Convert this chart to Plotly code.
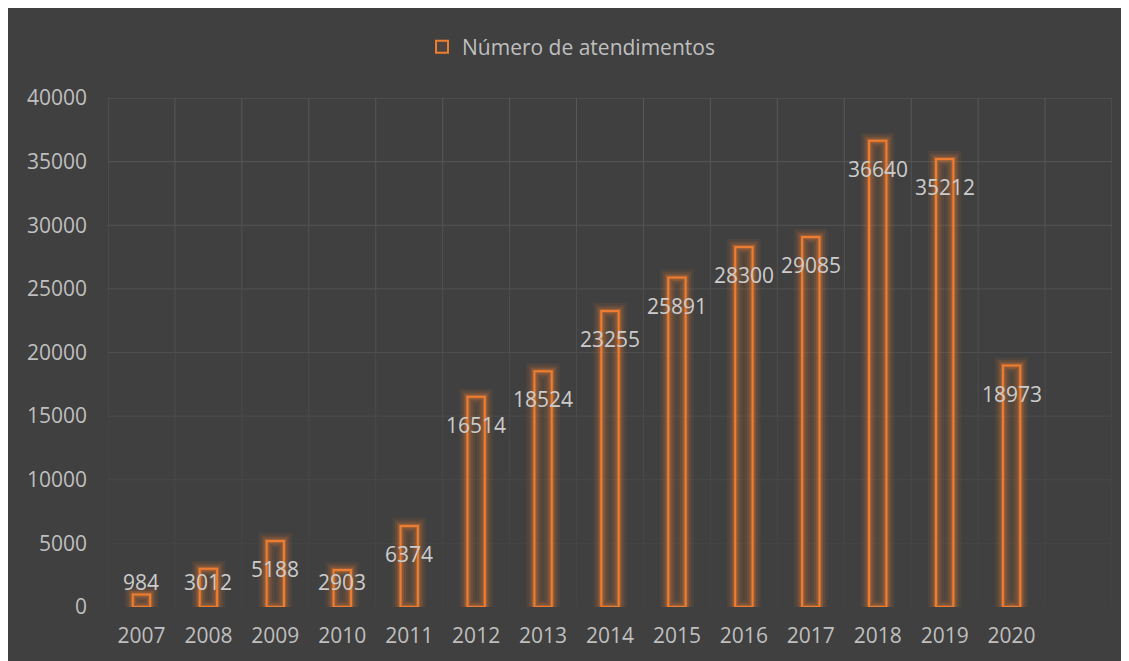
import plotly.graph_objects as go

years = ["2007", "2008", "2009", "2010", "2011", "2012", "2013",
         "2014", "2015", "2016", "2017", "2018", "2019", "2020"]
atendimentos = [984, 3012, 5188, 2903, 6374, 16514, 18524,
                23255, 25891, 28300, 29085, 36640, 35212, 18973]
y_ticks = [0, 5000, 10000, 15000, 20000, 25000, 30000, 35000, 40000]
series_name = "Número de atendimentos"

FONT = "Open Sans"
BG = "#404040"
ORANGE = "#ED7D31"
TXT = "#bfbfbf"

xs = list(range(len(years)))
n_slots = len(years) + 1  # one empty slot at the end, as in the original
ymax = 40000
plot_h = 509  # px height of plot area

fig = go.Figure()

# glow layers
for lw, alpha in [(16, 0.08), (11, 0.12), (7, 0.18), (4, 0.28)]:
    fig.add_trace(go.Bar(x=xs, y=atendimentos, width=0.26, showlegend=False, hoverinfo="skip",
                         marker=dict(color="rgba(0,0,0,0)",
                                     line=dict(color=f"rgba(237,125,49,{alpha})", width=lw))))
# main bars
fig.add_trace(go.Bar(x=xs, y=atendimentos, width=0.26, name=series_name,
                     marker=dict(color="rgba(237,125,49,0.07)",
                                 line=dict(color=ORANGE, width=2))))

# gridlines with fading intensity
def grid_col(v):
    t = (v / ymax) ** 1.1
    c = int(round(67 + (90 - 67) * t))
    return f"rgb({c},{c},{c})"

shapes = []
for v in y_ticks:
    if v == 0:
        continue
    shapes.append(dict(type="line", xref="x", yref="y", layer="below",
                       x0=-0.5, x1=n_slots - 0.5, y0=v, y1=v,
                       line=dict(color=grid_col(v), width=1)))
for k in range(n_slots + 1):
    xb = k - 0.5
    for i in range(len(y_ticks) - 1):
        lo, hi = y_ticks[i], y_ticks[i + 1]
        shapes.append(dict(type="line", xref="x", yref="y", layer="below",
                           x0=xb, x1=xb, y0=lo, y1=hi,
                           line=dict(color=grid_col((lo + hi) / 2), width=1)))

# data labels (inside end; pushed up for short bars)
annotations = []
for x, v in zip(xs, atendimentos):
    h = v / ymax * plot_h
    if h - 28 >= 25:
        y, ys = v, -28
    else:
        y, ys = 0, 25
    annotations.append(dict(x=x, y=y, yshift=ys, text=str(v), showarrow=False,
                            xref="x", yref="y",
                            font=dict(family=FONT, size=21, color="#cccccc")))

fig.update_layout(
    width=1129, height=661,
    margin=dict(l=100, r=25, t=90, b=62),
    paper_bgcolor=BG,
    plot_bgcolor="rgba(0,0,0,0)",
    barmode="overlay",
    font=dict(family=FONT, size=21, color=TXT),
    shapes=shapes,
    annotations=annotations,
    showlegend=True,
    legend=dict(orientation="h", x=(571 - 108) / 1004, xanchor="center",
                y=(607 - 47) / plot_h, yanchor="middle",
                bgcolor="rgba(0,0,0,0)", font=dict(family=FONT, size=21, color=TXT),
                itemwidth=30),
    xaxis=dict(range=[-0.5, n_slots - 0.5], tickvals=xs, ticktext=years,
               showgrid=False, zeroline=False, showline=False, ticks="",
               ticklabelstandoff=14, tickfont=dict(family=FONT, size=21, color=TXT)),
    yaxis=dict(range=[0, ymax], tickvals=y_ticks, ticktext=[str(t) for t in y_ticks],
               showgrid=False, zeroline=False, showline=False, ticks="",
               ticklabelstandoff=20, tickfont=dict(family=FONT, size=21, color=TXT)),
)

fig.write_html("out.html")
